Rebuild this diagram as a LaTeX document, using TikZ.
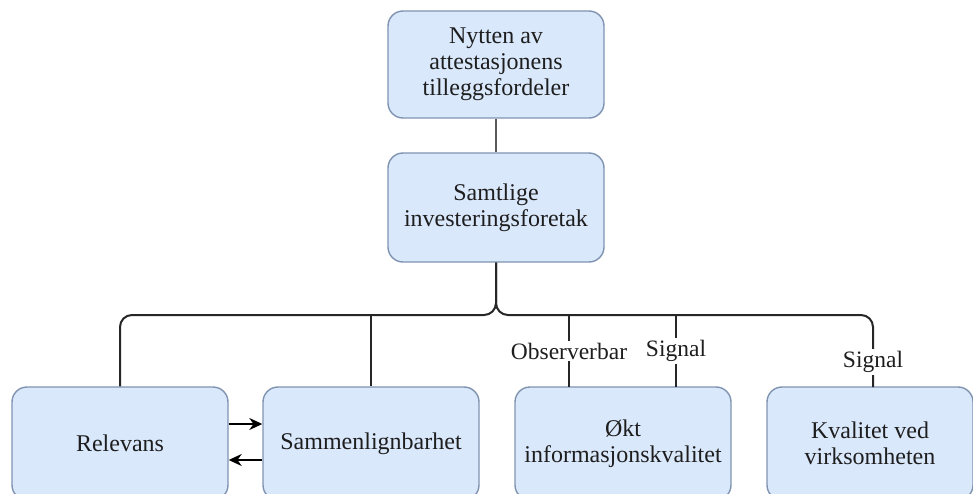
\documentclass[tikz,border=0pt]{standalone}
\usepackage{fontspec}
\setmainfont{Liberation Serif}
\usetikzlibrary{arrows.meta,calc}
\definecolor{boxfill}{HTML}{DAE8FC}
\definecolor{boxline}{HTML}{7F93B0}
\definecolor{linkgray}{HTML}{5A5A5A}
\definecolor{ink}{HTML}{1E1E1E}
\tikzset{
  box/.style={draw=boxline, fill=boxfill, line width=1.4pt, rounded corners=15pt,
    minimum width=216pt, align=center, text=ink, font=\fontsize{24}{26}\selectfont},
  link/.style={line width=2pt, draw=black!85},
  toplink/.style={line width=2.4pt, draw=linkgray},
  tag/.style={fill=white, inner sep=2pt, text=ink, font=\fontsize{23.5}{25}\selectfont},
  flow/.style={line width=2pt, -{Stealth[length=13pt,width=12pt]}}
}
\begin{document}
\begin{tikzpicture}[x=1pt,y=-1pt]
\useasboundingbox (0,0) rectangle (973,494);
% upper chain
\node[box, minimum height=107pt] (nytte) at (496,64.5) {Nytten av\\attestasjonens\\tilleggsfordeler};
\node[box, minimum height=109pt] (samt) at (496,207.5) {Samtlige\\investeringsforetak};
% bottom row
\node[box, minimum height=113pt] (rel) at (120,443.5) {Relevans};
\node[box, minimum height=113pt] (sam) at (371,443.5) {Sammenlignbarhet};
\node[box, minimum height=113pt] (okt) at (623,443.5) {Økt\\informasjonskvalitet};
\node[box, minimum height=113pt, minimum width=206pt] (kval) at (870,443.5) {Kvalitet ved\\virksomheten};
\coordinate (bus) at (496,315);
% connectors
\draw[toplink] (nytte) -- (samt);
\draw[link, rounded corners=12pt] (samt.south) |- (rel.north |- bus) -- (rel.north);
\draw[link, rounded corners=12pt] (samt.south) |- (873,315) -- (873,387);
\draw[link] (sam.north |- bus) -- (sam.north);
\draw[link] (569,315) -- (569,387) node[tag, pos=0.5] {Observerbar};
\draw[link] (676,315) -- (676,387) node[tag, pos=0.5] {Signal};
\node[tag] at (873,362) {Signal};
\draw[flow] (rel.east |- 0,424) -- (sam.west |- 0,424);
\draw[flow] (sam.west |- 0,460) -- (rel.east |- 0,460);
\end{tikzpicture}
\end{document}
